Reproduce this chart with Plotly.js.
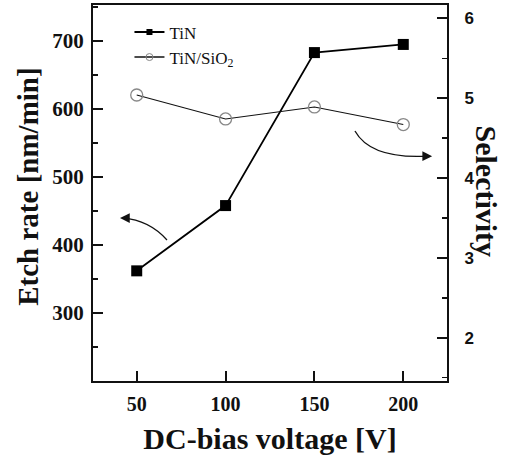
<!DOCTYPE html>
<html>
<head>
<meta charset="utf-8">
<script src="https://cdn.plot.ly/plotly-3.0.1.min.js"></script>
<style>html,body{margin:0;padding:0;background:#fff;}#chart{width:506px;height:455px;}</style>
</head>
<body>
<div id="chart"></div>
<script>
const voltage = [50, 100, 150, 200];
const etchRateTiN = [362, 458, 683, 695];
const selectivity = [5.04, 4.74, 4.89, 4.67];
const xTicks = [50, 100, 150, 200];
const leftTicks = [300, 400, 500, 600, 700];
const rightTicks = [2, 3, 4, 5, 6];
const seriesNames = ['TiN', 'TiN/SiO<sub>2</sub>'];

const serif = "Liberation Serif, Times New Roman, serif";
const sans = "Liberation Sans, Arial, sans-serif";

const traces = [
  {
    x: voltage, y: etchRateTiN, name: seriesNames[0], type: 'scatter', mode: 'lines+markers',
    line: {color: '#000', width: 1.8},
    marker: {symbol: 'square', size: 11, color: '#000'},
    yaxis: 'y', showlegend: false
  },
  {
    x: voltage, y: selectivity, name: seriesNames[1], type: 'scatter', mode: 'lines+markers',
    line: {color: '#111', width: 1.1},
    marker: {symbol: 'circle-open', size: 12, color: '#888', line: {width: 1.3, color: '#888'}},
    yaxis: 'y2', showlegend: false
  },
  // legend-only entries with smaller symbols, as in the reference key
  {
    x: [null], y: [null], name: seriesNames[0], type: 'scatter', mode: 'lines+markers',
    line: {color: '#000', width: 2},
    marker: {symbol: 'square', size: 6, color: '#000'}
  },
  {
    x: [null], y: [null], name: seriesNames[1], type: 'scatter', mode: 'lines+markers',
    line: {color: '#111', width: 1.6},
    marker: {symbol: 'circle-open', size: 7, color: '#888', line: {width: 1, color: '#888'}}
  }
];

const layout = {
  width: 506, height: 455,
  margin: {l: 93, r: 59, t: 5, b: 74},
  paper_bgcolor: '#fff', plot_bgcolor: '#fff',
  showlegend: true,
  legend: {
    x: 0.103, y: 0.975, xanchor: 'left', yanchor: 'top',
    bgcolor: 'rgba(0,0,0,0)', borderwidth: 0,
    font: {family: serif, size: 17, color: '#111'},
    itemsizing: 'trace', tracegroupgap: 0
  },
  xaxis: {
    range: [25.4, 224.6], tickvals: xTicks, ticktext: xTicks.map(String),
    ticks: 'inside', ticklen: 10, tickwidth: 2, tickcolor: '#111',
    showline: true, linecolor: '#111', linewidth: 2, mirror: true,
    showgrid: false, zeroline: false, ticklabelstandoff: 4,
    tickfont: {family: serif, size: 20, color: '#111', weight: 'bold'},
    title: {text: '<b>DC-bias voltage [V]</b>', font: {family: serif, size: 30, color: '#111'}, standoff: 14}
  },
  yaxis: {
    range: [200, 753], tickvals: leftTicks,
    ticks: 'inside', ticklen: 10, tickwidth: 2, tickcolor: '#111',
    minor: {dtick: 50, tick0: 250, ticks: 'inside', ticklen: 5, tickwidth: 1.5, tickcolor: '#111'},
    showline: true, linecolor: '#111', linewidth: 2,
    showgrid: false, zeroline: false, ticklabelstandoff: 3,
    tickfont: {family: serif, size: 21, color: '#111', weight: 'bold'}
  },
  yaxis2: {
    overlaying: 'y', side: 'right',
    range: [1.458, 6.167], tickvals: rightTicks,
    ticks: 'inside', ticklen: 10, tickwidth: 2, tickcolor: '#111',
    minor: {dtick: 0.5, tick0: 1.5, ticks: 'inside', ticklen: 5, tickwidth: 1.5, tickcolor: '#111'},
    showline: true, linecolor: '#111', linewidth: 2,
    showgrid: false, zeroline: false, ticklabelstandoff: 12,
    tickfont: {family: sans, size: 17, color: '#111', weight: 'bold'}
  },
  shapes: [
    {type: 'path', xref: 'paper', yref: 'paper',
     path: 'M0.209,0.375 Q0.158,0.428 0.085,0.433', line: {color: '#111', width: 1.3}},
    {type: 'path', xref: 'paper', yref: 'paper',
     path: 'M0.740,0.665 Q0.785,0.590 0.945,0.598', line: {color: '#111', width: 1.3}}
  ],
  annotations: [
    {xref: 'paper', yref: 'paper', x: 0.0763, y: 0.4335, text: '', showarrow: true,
     arrowhead: 2, arrowsize: 1.5, arrowwidth: 1.3, arrowcolor: '#111', ax: 8, ay: 0},
    {xref: 'paper', yref: 'paper', x: 0.958, y: 0.598, text: '', showarrow: true,
     arrowhead: 2, arrowsize: 1.5, arrowwidth: 1.3, arrowcolor: '#111', ax: -8, ay: 0},
    {xref: 'paper', yref: 'paper', x: -0.186, y: 0.517, xanchor: 'center', yanchor: 'middle',
     text: '<b>Etch rate [nm/min]</b>', textangle: -90, showarrow: false,
     font: {family: serif, size: 29, color: '#111'}},
    {xref: 'paper', yref: 'paper', x: 1.113, y: 0.504, xanchor: 'center', yanchor: 'middle',
     text: '<b>Selectivity</b>', textangle: 90, showarrow: false,
     font: {family: serif, size: 30, color: '#111'}}
  ]
};

Plotly.newPlot('chart', traces, layout, {displayModeBar: false, staticPlot: true});
</script>
</body>
</html>
